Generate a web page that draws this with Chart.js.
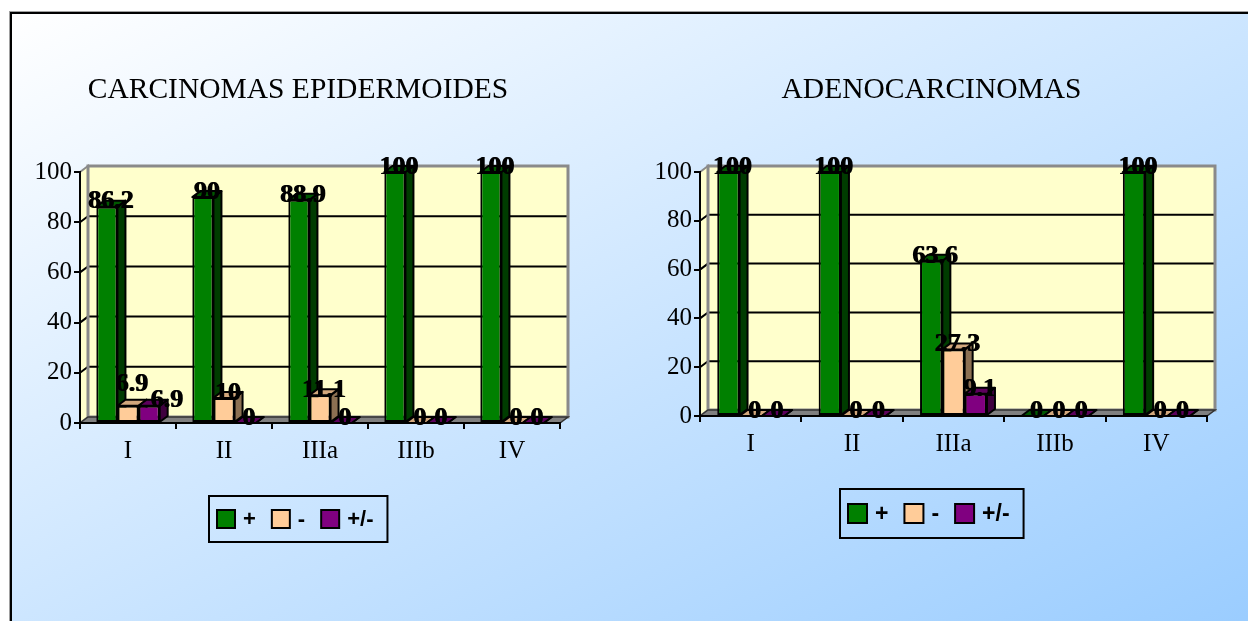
<!DOCTYPE html>
<html>
<head>
<meta charset="utf-8">
<script src="https://cdn.jsdelivr.net/npm/chart.js@4.4.1/dist/chart.umd.min.js"></script>
<style>
  html, body { margin: 0; padding: 0; width: 1248px; height: 621px; overflow: hidden; background: #ffffff; }
  #frame {
    position: absolute; left: 10px; top: 12px; width: 1250px; height: 620px;
    border-left: 2px solid #000; border-top: 2px solid #000;
    box-shadow: -1px -1px 0 #a0a0a0;
    background: linear-gradient(to bottom right, #ffffff 0%, #99ccff 100%);
  }
  canvas { position: absolute; top: 0; }
  #epid { left: 10px; }
  #adeno { left: 626px; }
</style>
</head>
<body>
<div id="frame"></div>
<canvas id="epid" width="576" height="621"></canvas>
<canvas id="adeno" width="611" height="621"></canvas>
<script>
// Stages on the category axis
const categories = ['I', 'II', 'IIIa', 'IIIb', 'IV'];
// Series names shown in the legends
const seriesLabels = ['+', '-', '+/-'];

// Carcinomas epidermoides (%)
const epidPositive = [86.2, 90, 88.9, 100, 100];
const epidNegative = [6.9, 10, 11.1, 0, 0];
const epidMixed    = [6.9, 0, 0, 0, 0];

// Adenocarcinomas (%)
const adenoPositive = [100, 100, 63.6, 0, 100];
const adenoNegative = [0, 0, 27.3, 0, 0];
const adenoMixed    = [0, 0, 9.1, 0, 0];

// Value axis
const valueMin = 0;
const valueMax = 100;
const valueStep = 20;

// Face colours per series: front, right side, top
const frontColors = ['#008000', '#FFCC99', '#800080'];
const sideColors  = ['#003c00', '#8c7052', '#3f003f'];
const topColors   = ['#005800', '#d2a77c', '#5c005c'];

const DX = 8;   // depth offset to the right
const DY = 6;   // depth offset upwards

const serif = "'Liberation Serif', 'Times New Roman', serif";
const sans = "'Liberation Sans', Arial, sans-serif";
Chart.defaults.font.family = serif;
Chart.defaults.color = '#000';

function poly(ctx, pts, fill, stroke, lw) {
  ctx.beginPath();
  ctx.moveTo(pts[0][0], pts[0][1]);
  for (let i = 1; i < pts.length; i++) ctx.lineTo(pts[i][0], pts[i][1]);
  ctx.closePath();
  if (fill) { ctx.fillStyle = fill; ctx.fill(); }
  if (stroke) { ctx.strokeStyle = stroke; ctx.lineWidth = lw; ctx.stroke(); }
}

function barBox(el) {
  const p = el.getProps(['x', 'y', 'base', 'width'], true);
  return {
    left: p.x - p.width / 2,
    right: p.x + p.width / 2,
    top: Math.min(p.y, p.base),
    base: Math.max(p.y, p.base)
  };
}

// Back wall, side wall, gridlines and floor of the 3-D box
const wallsPlugin = {
  id: 'walls3d',
  beforeDraw(chart) {
    const { ctx, chartArea: a, scales: { y } } = chart;
    const L = a.left, R = a.right;
    const T = y.getPixelForValue(valueMax), B = y.getPixelForValue(valueMin);
    ctx.save();
    const back = [[L + DX, T - DY], [R + DX, T - DY], [R + DX, B - DY], [L + DX, B - DY]];
    const side = [[L, T], [L + DX, T - DY], [L + DX, B - DY], [L, B]];
    poly(ctx, back, '#FFFFCC');
    poly(ctx, side, '#FFFFCC');
    ctx.strokeStyle = '#000';
    ctx.lineWidth = 2;
    y.ticks.forEach(t => {
      if (t.value <= valueMin || t.value >= valueMax) return;
      const py = y.getPixelForValue(t.value);
      ctx.beginPath();
      ctx.moveTo(L, py);
      ctx.lineTo(L + DX, py - DY);
      ctx.lineTo(R + DX, py - DY);
      ctx.stroke();
    });
    poly(ctx, back, null, '#8a8a8a', 3);
    poly(ctx, side, null, '#8a8a8a', 2);
    poly(ctx, [[L, B], [R, B], [R + DX, B - DY], [L + DX, B - DY]], '#808080', '#333', 1.5);
    ctx.restore();
  }
};

// Side and top faces of each bar, then the value labels
const barsPlugin = {
  id: 'bars3d',
  beforeDatasetsDraw(chart) {
    const ctx = chart.ctx;
    const n = chart.data.labels.length;
    const count = chart.data.datasets.length;
    ctx.save();
    ctx.lineJoin = 'round';
    for (let c = 0; c < n; c++) {
      for (let d = 0; d < count; d++) {
        const b = barBox(chart.getDatasetMeta(d).data[c]);
        poly(ctx, [[b.right, b.top], [b.right + DX, b.top - DY], [b.right + DX, b.base - DY], [b.right, b.base]],
             sideColors[d], '#000', 2);
        poly(ctx, [[b.left, b.top], [b.right, b.top], [b.right + DX, b.top - DY], [b.left + DX, b.top - DY]],
             topColors[d], '#000', 2);
      }
    }
    ctx.restore();
  },
  afterDatasetsDraw(chart) {
    const ctx = chart.ctx;
    const n = chart.data.labels.length;
    const count = chart.data.datasets.length;
    ctx.save();
    ctx.font = 'bold 26px ' + serif;
    ctx.textAlign = 'center';
    ctx.textBaseline = 'middle';
    ctx.fillStyle = '#000';
    for (let c = 0; c < n; c++) {
      // Place labels at the bar tops; when two non-zero labels of the same
      // stage sit at almost the same height, lift the first and push the
      // second to the right so both stay readable.
      const items = [];
      for (let d = 0; d < count; d++) {
        const v = chart.data.datasets[d].data[c];
        const b = barBox(chart.getDatasetMeta(d).data[c]);
        items.push({
          v, txt: String(v),
          x: (b.left + b.right) / 2 + DX / 2,
          y: b.top - DY / 2 - 2
        });
      }
      for (let d = 1; d < count; d++) {
        const p = items[d - 1], q = items[d];
        if (p.v > 0 && q.v > 0 && Math.abs(p.y - q.y) < 10) {
          p.y -= 16;
          q.x += 14;
        }
      }
      items.forEach(it => {
        ctx.fillText(it.txt, it.x - 0.5, it.y);
        ctx.fillText(it.txt, it.x + 0.5, it.y);
      });
    }
    ctx.restore();
  }
};

// Heading and boxed legend
const textPlugin = {
  id: 'chartText',
  afterDraw(chart, args, opts) {
    const ctx = chart.ctx;
    const W = chart.width;
    ctx.save();
    ctx.fillStyle = '#000';
    ctx.font = '29.5px ' + serif;
    ctx.textAlign = 'center';
    ctx.textBaseline = 'middle';
    ctx.fillText(opts.title, W / 2, opts.titleY);

    ctx.font = 'bold ' + opts.legendFont + 'px ' + sans;
    const sq = opts.square, gap = 8, spacing = 16, padL = 8, padR = 14;
    const items = chart.data.datasets.map(ds => ({ text: ds.label, color: ds.backgroundColor, w: ctx.measureText(ds.label).width }));
    let total = padL + padR;
    items.forEach((it, i) => { total += sq + gap + it.w + (i < items.length - 1 ? spacing : 0); });
    const x0 = Math.round(W / 2 - total / 2);
    const y0 = opts.legendTop, h = opts.legendHeight;
    ctx.strokeStyle = '#000';
    ctx.lineWidth = 2;
    ctx.strokeRect(x0, y0, total, h);
    let x = x0 + padL;
    const cy = y0 + h / 2;
    ctx.textAlign = 'left';
    items.forEach(it => {
      ctx.fillStyle = it.color;
      ctx.fillRect(x, cy - sq / 2, sq, sq);
      ctx.strokeRect(x, cy - sq / 2, sq, sq);
      ctx.fillStyle = '#000';
      ctx.fillText(it.text, x + sq + gap, cy + 1);
      x += sq + gap + it.w + spacing;
    });
    ctx.restore();
  }
};

function makeChart(id, series, cfg) {
  const datasets = series.map((values, i) => ({
    label: seriesLabels[i],
    data: values,
    backgroundColor: frontColors[i],
    borderColor: '#000',
    borderWidth: 2,
    borderSkipped: false,
    categoryPercentage: 0.66,
    barPercentage: 1,
    clip: false
  }));
  return new Chart(document.getElementById(id), {
    type: 'bar',
    data: { labels: categories, datasets },
    plugins: [wallsPlugin, barsPlugin, textPlugin],
    options: {
      responsive: false,
      animation: false,
      devicePixelRatio: 1,
      layout: { autoPadding: false, padding: cfg.padding },
      plugins: {
        legend: { display: false },
        tooltip: { enabled: false },
        chartText: cfg.text
      },
      scales: {
        x: {
          grid: { drawOnChartArea: false, drawTicks: true, tickLength: 6, color: '#000', lineWidth: 2, offset: true },
          border: { display: true, color: '#000', width: 2 },
          ticks: { font: { size: 25 }, color: '#000', padding: 7, maxRotation: 0, autoSkip: false },
          afterFit(s) { s.height = 40; }
        },
        y: {
          min: valueMin,
          max: valueMax,
          ticks: { stepSize: valueStep, font: { size: 25 }, color: '#000', padding: 2 },
          grid: { drawOnChartArea: false, drawTicks: true, tickLength: 6, color: '#000', lineWidth: 2 },
          border: { display: true, color: '#000', width: 2 },
          afterFit(s) { s.width = cfg.axisWidth; }
        }
      }
    }
  });
}

makeChart('epid', [epidPositive, epidNegative, epidMixed], {
  padding: { left: 0, right: 26, top: 172, bottom: 158 },
  axisWidth: 70,
  text: { title: 'CARCINOMAS EPIDERMOIDES', titleY: 90, legendTop: 496, legendHeight: 46, legendFont: 22, square: 18 }
});

makeChart('adeno', [adenoPositive, adenoNegative, adenoMixed], {
  padding: { left: 0, right: 30, top: 172, bottom: 165 },
  axisWidth: 74,
  text: { title: 'ADENOCARCINOMAS', titleY: 90, legendTop: 489, legendHeight: 49, legendFont: 23, square: 19 }
});
</script>
</body>
</html>
